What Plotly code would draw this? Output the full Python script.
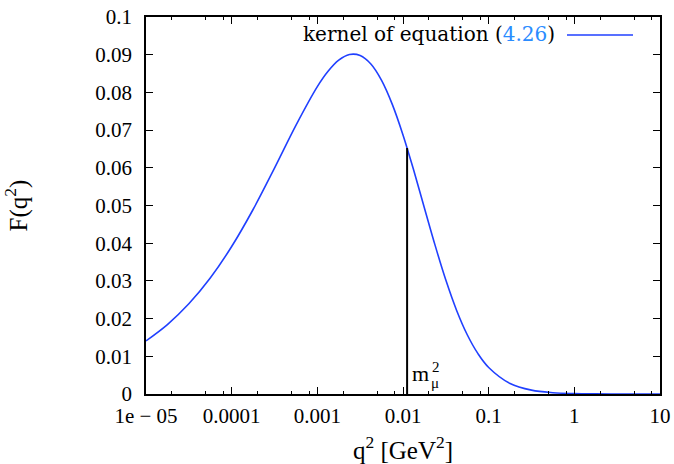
import plotly.graph_objects as go

# q^2 values [GeV^2] and kernel F(q^2)
q2 = [1e-5, 1.778e-5, 3.162e-5, 5.623e-5, 1e-4, 1.778e-4, 3.162e-4, 5.623e-4,
      1e-3, 1.334e-3, 1.778e-3, 2.371e-3, 3.162e-3, 4.217e-3, 5.623e-3, 7.499e-3,
      1e-2, 1.334e-2, 1.778e-2, 2.371e-2, 3.162e-2, 4.217e-2, 5.623e-2, 7.499e-2,
      0.1, 0.1778, 0.3162, 0.5623, 1.0, 1.778, 3.162, 5.623, 10.0]
F = [0.01409, 0.01842, 0.02392, 0.03077, 0.03912, 0.04894, 0.05991, 0.07125,
     0.08152, 0.08560, 0.08855, 0.09005, 0.08979, 0.08754, 0.08320, 0.07683,
     0.06872, 0.05934, 0.04934, 0.03942, 0.03022, 0.02223, 0.01572, 0.01070,
     0.007043, 0.002799, 0.001020, 0.000351, 0.000117,
     0.000038, 0.0000122, 0.0000039, 0.0000012]

# muon mass squared marker
mmu2 = [0.011164, 0.011164]
mmu2_F = [0.0, 0.065248]

x_tickvals = [1e-5, 1e-4, 1e-3, 1e-2, 1e-1, 1, 10]
x_ticktext = ["1e − 05", "0.0001", "0.001", "0.01", "0.1", "1", "10"]
x_minor = [m * 10.0 ** e for e in range(-5, 1) for m in (2, 5, 8)]
y_tickvals = [0, 0.01, 0.02, 0.03, 0.04, 0.05, 0.06, 0.07, 0.08, 0.09, 0.1]
y_ticktext = ["0", "0.01", "0.02", "0.03", "0.04", "0.05", "0.06", "0.07", "0.08", "0.09", "0.1"]

FONT = "Liberation Serif"
BLUE = "#2040ff"
LINK = "#2a8cff"

fig = go.Figure()
fig.add_trace(go.Scatter(x=q2, y=F, mode="lines", line=dict(color=BLUE, width=1.6, shape="spline"),
                         showlegend=False))
fig.add_trace(go.Scatter(x=mmu2, y=mmu2_F, mode="lines", line=dict(color="black", width=2),
                         showlegend=False))

fig.update_layout(
    width=674, height=464,
    margin=dict(l=146, r=14, t=17, b=70),
    paper_bgcolor="white", plot_bgcolor="white",
    font=dict(family=FONT, size=21, color="black"),
    xaxis=dict(
        type="log", range=[-5, 1], automargin=False,
        tickmode="array", tickvals=x_tickvals, ticktext=x_ticktext,
        ticks="inside", ticklen=7, tickwidth=1, tickcolor="black",
        minor=dict(tickmode="array", tickvals=x_minor, ticks="inside", ticklen=3,
                   tickcolor="black", tickwidth=1, showgrid=False),
        showline=True, linecolor="black", linewidth=1.5, mirror="allticks",
        showgrid=False, zeroline=False,
        title=dict(text="q<sup>2</sup> [GeV<sup>2</sup>]", standoff=22),
        ticklabelstandoff=2,
    ),
    yaxis=dict(
        range=[0, 0.1], automargin=False,
        tickmode="array", tickvals=y_tickvals, ticktext=y_ticktext,
        ticks="inside", ticklen=7, tickwidth=1, tickcolor="black",
        showline=True, linecolor="black", linewidth=1.5, mirror="allticks",
        showgrid=False, zeroline=False,
        title=dict(text="F(q<sup>2</sup>)", standoff=63),
        ticklabelstandoff=8,
    ),
)

# legend (text followed by line sample, as in the reference)
fig.add_annotation(xref="paper", yref="paper", x=(557 - 146) / 514, y=(394 - 34) / 377,
                   xanchor="right", yanchor="middle", showarrow=False,
                   text=f"kernel of equation (<span style='color:{LINK}'>4.26</span>)",
                   font=dict(family="DejaVu Serif", size=20))
fig.add_shape(type="line", xref="paper", yref="paper",
              x0=(567 - 146) / 514, x1=(633 - 146) / 514,
              y0=(394 - 35) / 377, y1=(394 - 35) / 377,
              line=dict(color=BLUE, width=1.6))

# m_mu^2 label
fig.add_annotation(x=-1.9522, y=0.0, xref="x", yref="y", xanchor="left", yanchor="bottom",
                   xshift=3, yshift=6, showarrow=False, text="m",
                   font=dict(family=FONT, size=22))
fig.add_annotation(x=-1.9522, y=0.0, xref="x", yref="y", xanchor="left", yanchor="bottom",
                   xshift=23, yshift=17, showarrow=False, text="2",
                   font=dict(family=FONT, size=15))
fig.add_annotation(x=-1.9522, y=0.0, xref="x", yref="y", xanchor="left", yanchor="bottom",
                   xshift=22, yshift=1, showarrow=False, text="μ",
                   font=dict(family=FONT, size=15))

fig.write_html("out.html")
